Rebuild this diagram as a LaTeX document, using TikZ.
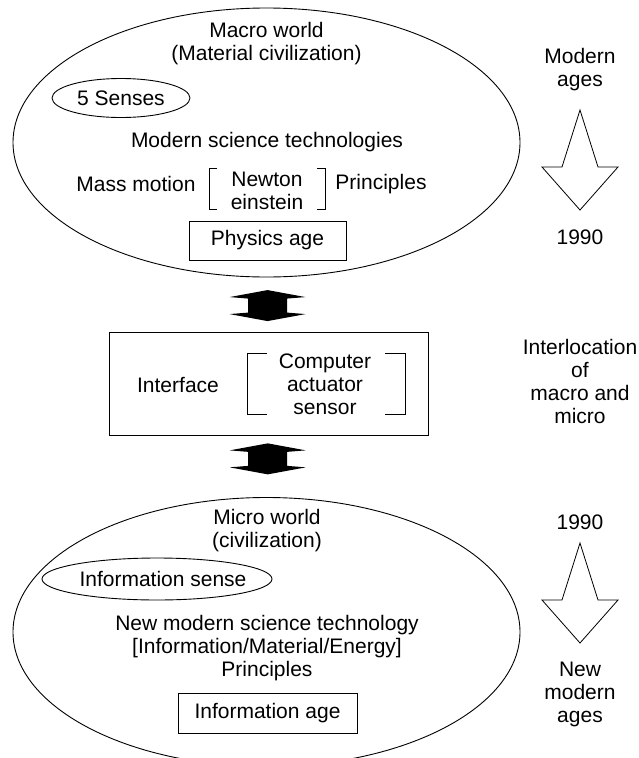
\documentclass[tikz,border=0pt]{standalone}
\usepackage{fontspec}
\setmainfont{Liberation Sans}
\usetikzlibrary{shapes.geometric,calc}
\begin{document}
\begin{tikzpicture}[x=1pt,y=-1pt,
  every node/.style={font=\fontsize{21}{23}\selectfont, inner sep=0pt, align=center},
  world/.style={draw, ellipse, line width=0.9pt, minimum width=507pt, minimum height=269pt},
  sense/.style={draw, ellipse, line width=0.9pt},
  agebox/.style={draw, rectangle, line width=0.9pt},
  bracket/.style={line width=0.9pt},
  fatarrow/.pic={
    \fill (0,-15.5) -- (38,-8.5) -- (19.5,-7) -- (19.5,7) -- (38,8.5) -- (0,15.5)
      -- (-38,8.5) -- (-19.5,7) -- (-19.5,-7) -- (-38,-8.5) -- cycle;},
  hollowarrow/.pic={
    \draw[line width=0.8pt, line join=miter] (0,0) -- (18,57) -- (38,57) -- (0,100)
      -- (-38,57) -- (-18,57) -- cycle;}
]
\useasboundingbox (0,0) rectangle (639,758);
\clip (0,0) rectangle (639,758);

% macro world
\node[world] (macro) at (266.5,142.5) {};
\node (macrotitle) at (266.5,43.5) {Macro world\\(Material civilization)};
\node[sense, minimum width=138pt, minimum height=39pt] (senses) at (121,98) {5 Senses};
\node (mst) at (267,142) {Modern science technologies};
\node (mass) at (136,184) {Mass motion};
\node (newton) at (267,190.5) {Newton\\einstein};
\node (princ) at (381,184) {Principles};
\draw[bracket] (217,168) -| (209,209) -- (217,209);
\draw[bracket] (317,168) -| (325,209) -- (317,209);
\node[agebox, minimum width=157pt, minimum height=39pt] (physics) at (267.5,240.5) {Physics age};

% interface
\node[agebox, minimum width=319pt, minimum height=103pt] (iface) at (268.5,383.5) {};
\node (ifacetxt) at (178,385) {Interface};
\node (cas) at (325,384) {Computer\\actuator\\sensor};
\draw[bracket] (267,353) -| (247,414) -- (267,414);
\draw[bracket] (385,353) -| (405,414) -- (385,414);

% micro world
\node[world] (micro) at (266.5,632) {};
\node (microtitle) at (267,530.5) {Micro world\\(civilization)};
\node[sense, minimum width=230pt, minimum height=42pt] (infosense) at (157,579) {};
\node (infosensetxt) at (163,579) {Information sense};
\node (nmst) at (267,648.5) {New modern science technology\\{[Information/Material/Energy]}\\Principles};
\node[agebox, minimum width=179pt, minimum height=40pt] (info) at (267.5,713) {Information age};

% links between the worlds and the interface
\pic at ($(macro.south)!0.52!(iface.north)$) {fatarrow};
\pic at ($(iface.south)!0.38!(micro.north)$) {fatarrow};

% time line
\node (modern) at (580,70) {Modern\\ages};
\pic at (580,110) {hollowarrow};
\node (yeara) at (580,237) {1990};
\node (interloc) at (580,381.5) {Interlocation\\of\\macro and\\micro};
\node (yearb) at (580,522) {1990};
\pic at (580,543) {hollowarrow};
\node (newages) at (580,694) {New\\modern\\ages};
\end{tikzpicture}
\end{document}
